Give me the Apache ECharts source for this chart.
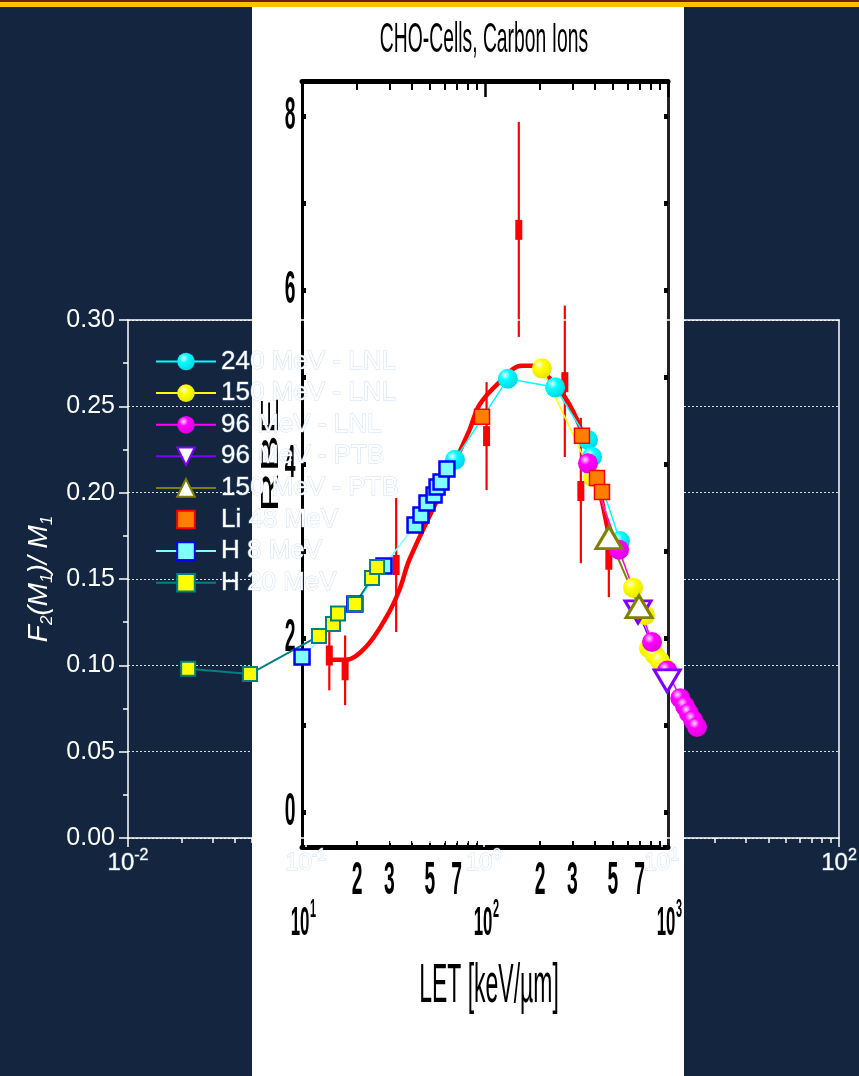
<!DOCTYPE html>
<html>
<head>
<meta charset="utf-8">
<title>CHO-Cells, Carbon Ions</title>
<script src="https://cdn.jsdelivr.net/npm/echarts@6.0.0/dist/echarts.min.js"></script>
<style>
  html, body { margin: 0; padding: 0; background: #13253f; }
  #chart { width: 859px; height: 1076px; }
</style>
</head>
<body>
<div id="chart"></div>
<script>
// ---------- F2(M1)/M1 measurements (x on log scale) ----------
const lnl240X = [0.691, 1.37, 2.53, 3.87, 4.08, 5.86];
const lnl240Y = [0.219, 0.266, 0.261, 0.2305, 0.2207, 0.172];

const lnl150X = [2.13, 4.13, 6.94, 8.10, 8.53, 9.22, 9.84, 10.5];
const lnl150Y = [0.272, 0.209, 0.145, 0.129, 0.110, 0.106, 0.1025, 0.0985];

const lnl96X = [3.87, 5.79, 8.87, 10.8, 12.8, 13.6, 14.3, 15.1, 15.9];
const lnl96Y = [0.217, 0.167, 0.1135, 0.097, 0.081, 0.0764, 0.0724, 0.0683, 0.0643];

const ptb96X = [7.40, 10.8];
const ptb96Y = [0.131, 0.091];

const ptb150X = [5.08, 7.50];
const ptb150Y = [0.174, 0.134];

const li48X = [0.981, 3.58, 4.35, 4.64];
const li48Y = [0.244, 0.233, 0.2085, 0.2004];

const h8X = [0.0953, 0.189, 0.2755, 0.412, 0.445, 0.481, 0.527, 0.548, 0.577, 0.623];
const h8Y = [0.1048, 0.1355, 0.1575, 0.1813, 0.1871, 0.194, 0.1986, 0.2033, 0.2062, 0.2137];

const h20X = [0.0218, 0.0486, 0.1187, 0.1423, 0.1519, 0.1893, 0.2359, 0.252];
const h20Y = [0.098, 0.095, 0.117, 0.124, 0.130, 0.1355, 0.1506, 0.1569];

const seriesNames = ['240 MeV - LNL', '150 MeV - LNL', '96 MeV - LNL', '96 MeV - PTB',
                     '150 MeV - PTB', 'Li 48 MeV', 'H 8 MeV', 'H 20 MeV'];

// ---------- CHO cells, carbon ions: RBE vs LET ----------
const rbeLet  = [14.1, 17.2, 32.7, 102, 153, 273, 334, 475];
const rbeVal  = [1.80, 1.63, 2.84, 4.32, 6.69, 4.94, 3.69, 2.90];
const rbeLow  = [1.40, 1.23, 2.07, 3.70, 5.46, 4.08, 2.86, 2.47];
const rbeHigh = [2.11, 2.03, 3.61, 4.94, 7.93, 5.82, 4.53, 3.13];

const fitLet = [14.1, 17.4, 22.4, 28.9, 34.0, 38.6, 56.3, 82.2, 93.3, 120, 158, 182, 217, 273, 330, 408, 469, 487];
const fitRbe = [1.75, 1.75, 1.90, 2.24, 2.55, 2.90, 3.64, 4.39, 4.68, 4.94, 5.13, 5.13, 5.02, 4.77, 4.43, 3.82, 3.24, 3.01];

// ---------- tick labels ----------
const mainExponents = [-2, -1, 0, 1, 2];
const minorMultipliers = [2, 3, 4, 5, 6, 7, 8, 9];
const rbeYLabels = [0, 2, 4, 6, 8];
const rbeYTicks = [0, 1, 2, 3, 4, 5, 6, 7, 8];
const rbeXMinorLabels = [20, 30, 50, 70, 200, 300, 500, 700];
const rbeXDecades = [10, 100, 1000];

// ---------- helpers ----------
const pairs = (xs, ys) => xs.map((x, i) => [x, ys[i]]);
const minorLogTicks = (fromExp, toExp) => {
  const out = [];
  for (let e = fromExp; e < toExp; e++) minorMultipliers.forEach(m => out.push(e + Math.log10(m)));
  return out;
};
const SANS = '"Liberation Sans", Arial, sans-serif';
const FRINGE = 'rgba(165,195,235,0.55)';
const ball = (light, base, dark) => ({
  type: 'radial', x: 0.36, y: 0.32, r: 0.72,
  colorStops: [{ offset: 0, color: light }, { offset: 0.35, color: base }, { offset: 1, color: dark }]
});
const supExp = e => (e < 0 ? '-' : '') + Math.abs(e);

const mainSeries = (name, xs, ys, o) => Object.assign({
  name, type: 'line', xAxisIndex: 0, yAxisIndex: 0, z: 8,
  data: pairs(xs, ys), showSymbol: true, showAllSymbol: true, smooth: false
}, o);

const chart = echarts.init(document.getElementById('chart'), null, { renderer: 'canvas', width: 859, height: 1076 });

const option = {
  animation: false,
  backgroundColor: '#13253f',
  grid: [
    { left: 128, top: 320, width: 711, height: 518, containLabel: false, outerBoundsMode: 'none' },
    { left: 302, top: 81, width: 366, height: 766, containLabel: false, outerBoundsMode: 'none' }
  ],
  xAxis: [
    // 0: F2/M1 data axis
    { type: 'log', gridIndex: 0, min: 0.01, max: 100, logBase: 10, show: false },
    // 1: decades with 10^n labels
    { type: 'value', gridIndex: 0, min: mainExponents[0], max: mainExponents[mainExponents.length - 1], interval: 1,
      position: 'bottom', z: 6,
      axisLine: { show: true, onZero: false, lineStyle: { color: '#fff', width: 1.5 } },
      axisTick: { show: true, length: 9, lineStyle: { color: '#fff', width: 1.5 } },
      splitLine: { show: false },
      axisLabel: {
        margin: 10, color: '#fff',
        formatter: v => '{b|10}{s|' + supExp(Math.round(v)) + '}',
        rich: {
          b: { fontSize: 24, fontFamily: SANS, color: '#fff', lineHeight: 30, textBorderColor: FRINGE, textBorderWidth: 1 },
          s: { fontSize: 16, fontFamily: SANS, color: '#fff', lineHeight: 16, verticalAlign: 'top', textBorderColor: FRINGE, textBorderWidth: 1 }
        }
      } },
    // 2: minor log ticks
    { type: 'value', gridIndex: 0, min: -2, max: 2, position: 'bottom', z: 6,
      axisLine: { show: false, onZero: false }, axisLabel: { show: false }, splitLine: { show: false },
      axisTick: { show: true, customValues: minorLogTicks(-2, 2), length: 5, lineStyle: { color: '#fff', width: 1.5 } } },
    // 3: top frame line
    { type: 'value', gridIndex: 0, min: -2, max: 2, position: 'top', z: 6,
      axisLine: { show: true, onZero: false, lineStyle: { color: '#fff', width: 1.5 } },
      axisTick: { show: false }, axisLabel: { show: false }, splitLine: { show: false } },
    // 4: RBE data axis
    { type: 'log', gridIndex: 1, min: 10, max: 1000, logBase: 10, show: false },
    // 5: RBE bottom frame with minor ticks
    { type: 'value', gridIndex: 1, min: 1, max: 3, position: 'bottom', z: 3,
      axisLine: { show: true, onZero: false, lineStyle: { color: '#000', width: 5 } },
      axisTick: { show: true, inside: true, customValues: minorLogTicks(1, 3), length: 6, lineStyle: { color: '#000', width: 2 } },
      axisLabel: { show: false }, splitLine: { show: false } },
    // 6: RBE top frame with minor ticks
    { type: 'value', gridIndex: 1, min: 1, max: 3, position: 'top', z: 3,
      axisLine: { show: true, onZero: false, lineStyle: { color: '#000', width: 5 } },
      axisTick: { show: true, inside: true, customValues: minorLogTicks(1, 3), length: 9, lineStyle: { color: '#000', width: 2 } },
      axisLabel: { show: false }, splitLine: { show: false } },
    // 7: RBE top decade ticks
    { type: 'value', gridIndex: 1, min: 1, max: 3, interval: 1, position: 'top', z: 3,
      axisLine: { show: false, onZero: false },
      axisTick: { show: true, inside: true, length: 16, lineStyle: { color: '#000', width: 2.5 } },
      axisLabel: { show: false }, splitLine: { show: false } }
  ],
  yAxis: [
    // 0: F2/M1 value axis
    { type: 'value', gridIndex: 0, min: 0, max: 0.3, interval: 0.05, position: 'left', z: 0,
      axisLine: { show: true, onZero: false, lineStyle: { color: '#fff', width: 1.5 } },
      axisTick: { show: true, length: 9, lineStyle: { color: '#fff', width: 1.5 } },
      minorTick: { show: true, splitNumber: 2, length: 5, lineStyle: { color: '#fff', width: 1.5 } },
      splitLine: { show: true, lineStyle: { color: '#ffffff', width: 1, type: [2, 2], opacity: 0.85 } },
      axisLabel: { color: '#fff', fontSize: 25, fontFamily: SANS, margin: 13, formatter: v => v.toFixed(2) },
      name: '{i|F}{sub|2}{i|(M}{sub|1}{i|)/ M}{sub|1}',
      nameLocation: 'middle', nameGap: 70, nameRotate: 90,
      nameTextStyle: {
        rich: {
          i: { fontSize: 28, fontStyle: 'italic', fontFamily: SANS, color: '#fff', lineHeight: 32 },
          sub: { fontSize: 17, fontStyle: 'italic', fontFamily: SANS, color: '#fff', lineHeight: 32, verticalAlign: 'bottom' }
        }
      } },
    // 1: right frame line
    { type: 'value', gridIndex: 0, min: 0, max: 0.3, position: 'right', z: 6,
      axisLine: { show: true, onZero: false, lineStyle: { color: '#fff', width: 1.5 } },
      axisTick: { show: false }, axisLabel: { show: false }, splitLine: { show: false } },
    // 2: RBE axis (left)
    { type: 'value', gridIndex: 1, min: -0.4, max: 8.4, position: 'left', z: 3,
      axisLine: { show: true, onZero: false, lineStyle: { color: '#000', width: 3 } },
      axisTick: { show: true, inside: true, customValues: rbeYTicks, length: 4, lineStyle: { color: '#000', width: 5 } },
      axisLabel: { show: false }, splitLine: { show: false } },
    // 3: RBE right frame
    { type: 'value', gridIndex: 1, min: -0.4, max: 8.4, position: 'right', z: 3,
      axisLine: { show: true, onZero: false, lineStyle: { color: '#222', width: 3 } },
      axisTick: { show: true, inside: true, customValues: rbeYTicks, length: 4, lineStyle: { color: '#000', width: 5 } },
      axisLabel: { show: false }, splitLine: { show: false } }
  ],
  legend: {
    orient: 'vertical', left: 155, top: 348, padding: 0, z: 9,
    itemWidth: 60, itemHeight: 22, itemGap: 4.6,
    data: seriesNames,
    textStyle: { color: '#fff', fontSize: 26, lineHeight: 26, fontFamily: SANS, textBorderColor: FRINGE, textBorderWidth: 1 }
  },
  series: [
    // RBE fit curve
    { name: 'fit', type: 'line', xAxisIndex: 4, yAxisIndex: 2, z: 4, smooth: 0.35, showSymbol: false,
      data: pairs(fitLet, fitRbe), lineStyle: { color: '#ff0000', width: 4.5 } },
    // RBE measurements with error bars
    { name: 'RBE', type: 'custom', xAxisIndex: 4, yAxisIndex: 2, z: 4,
      encode: { x: 0, y: 1 },
      data: rbeLet.map((l, i) => [l, rbeVal[i], rbeLow[i], rbeHigh[i]]),
      renderItem: (params, api) => {
        const x = api.value(0);
        const lo = api.coord([x, api.value(2)]);
        const hi = api.coord([x, api.value(3)]);
        const c = api.coord([x, api.value(1)]);
        return { type: 'group', children: [
          { type: 'line', shape: { x1: lo[0], y1: lo[1], x2: hi[0], y2: hi[1] }, style: { stroke: '#ff0000', lineWidth: 2.2 } },
          { type: 'rect', shape: { x: c[0] - 3.5, y: c[1] - 10, width: 7, height: 20 }, style: { fill: '#ff0000' } }
        ] };
      } },
    mainSeries('240 MeV - LNL', lnl240X, lnl240Y, { symbol: 'circle', symbolSize: 20,
      itemStyle: { color: ball('#e8ffff', '#00ffff', '#00d4e0') }, lineStyle: { color: '#00ffff', width: 1.5 } }),
    mainSeries('150 MeV - LNL', lnl150X, lnl150Y, { symbol: 'circle', symbolSize: 20,
      itemStyle: { color: ball('#ffffe8', '#ffff00', '#e6e600') }, lineStyle: { color: '#ffff00', width: 1.5 } }),
    mainSeries('H 8 MeV', h8X, h8Y, { symbol: 'rect', symbolSize: 15,
      itemStyle: { color: '#80ffff', borderColor: '#0000ff', borderWidth: 2.5 }, lineStyle: { color: '#80ffff', width: 1.5 } }),
    mainSeries('H 20 MeV', h20X, h20Y, { symbol: 'rect', symbolSize: 14,
      itemStyle: { color: '#ffff00', borderColor: '#008080', borderWidth: 2 }, lineStyle: { color: '#008080', width: 2 } }),
    mainSeries('96 MeV - LNL', lnl96X, lnl96Y, { symbol: 'circle', symbolSize: 20,
      itemStyle: { color: ball('#ffe0ff', '#ff00ff', '#e000e0') }, lineStyle: { color: '#ff00ff', width: 1.5 } }),
    mainSeries('Li 48 MeV', li48X, li48Y, { symbol: 'rect', symbolSize: 15,
      itemStyle: { color: '#ff8000', borderColor: '#ff0000', borderWidth: 1.5 }, lineStyle: { color: 'rgba(0,0,0,0)', width: 0 } }),
    mainSeries('96 MeV - PTB', ptb96X, ptb96Y, { symbol: 'triangle', symbolRotate: 180, symbolSize: [26, 22],
      itemStyle: { color: '#ffffff', borderColor: '#8000ff', borderWidth: 3 }, lineStyle: { color: '#8000ff', width: 1.5 } }),
    mainSeries('150 MeV - PTB', ptb150X, ptb150Y, { symbol: 'triangle', symbolSize: [26, 22],
      itemStyle: { color: '#ffffff', borderColor: '#808000', borderWidth: 3 }, lineStyle: { color: '#808000', width: 2 } })
  ]
};

chart.setOption(option);

// ---------- panel, banner and the condensed RBE lettering ----------
const toX = v => chart.convertToPixel({ xAxisIndex: 4 }, v);
const toY = v => chart.convertToPixel({ yAxisIndex: 2 }, v);
const SQUEEZE = 0.42;

function lettering(text, x, y, size, weight, extra) {
  return Object.assign({
    type: 'text', x, y, scaleX: SQUEEZE, z: 5, silent: true,
    style: {
      text, fill: '#000', font: weight + ' ' + size + 'px ' + SANS,
      align: 'center', verticalAlign: 'middle', textAlign: 'center', textVerticalAlign: 'middle'
    }
  }, extra || {});
}

const elements = [
  { type: 'rect', z: 1, silent: true, shape: { x: 252, y: 7, width: 432, height: 1069 }, style: { fill: '#ffffff' } },
  { type: 'rect', z: 10, silent: true, shape: { x: 0, y: 0, width: 859, height: 2 }, style: { fill: '#6a2410' } },
  { type: 'rect', z: 10, silent: true, shape: { x: 0, y: 2, width: 859, height: 5 }, style: { fill: '#ffc000' } },
  lettering('CHO-Cells, Carbon Ions', 484, 40, 42, 'normal', { scaleX: 0.46 }),
  lettering('LET [keV/\u00b5m]', 489, 987, 56, 'normal', { scaleX: 0.41 }),
  lettering('RBE', 272, 455, 56, 'normal', { scaleX: 1, scaleY: SQUEEZE, rotation: Math.PI / 2 })
];

rbeYLabels.forEach(v => elements.push(lettering(String(v), 290, toY(v), 46, 'bold')));
rbeXMinorLabels.forEach(v => {
  const lead = v / Math.pow(10, Math.floor(Math.log10(v)));
  elements.push(lettering(String(lead), toX(v), 881, 46, 'bold'));
});
rbeXDecades.forEach(v => {
  const x = toX(v);
  const exp = String(Math.round(Math.log10(v)));
  elements.push(lettering('10', x - 2, 924, 40, 'bold'));
  elements.push(lettering(exp, x + 8, 910, 26, 'bold',
    { style: { text: exp, fill: '#000', font: 'bold 26px ' + SANS,
               align: 'left', verticalAlign: 'middle', textAlign: 'left', textVerticalAlign: 'middle' } }));
});

chart.setOption({ graphic: { elements } });
</script>
</body>
</html>
